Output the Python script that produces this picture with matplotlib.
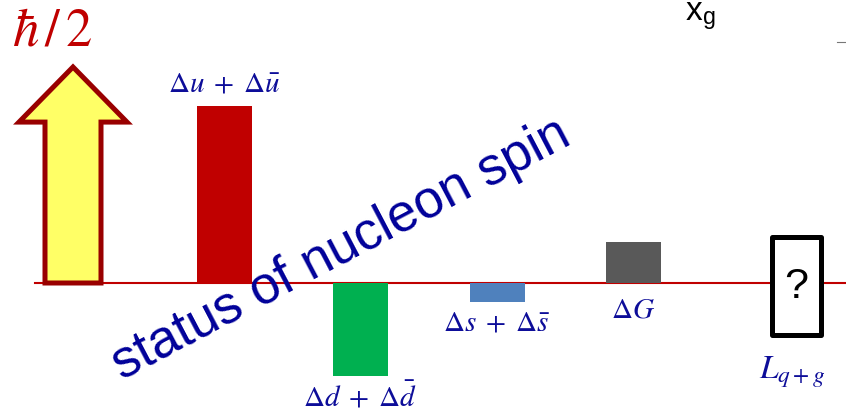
import matplotlib.pyplot as plt
from matplotlib.patches import Polygon, Rectangle

plt.rcParams['mathtext.fontset'] = 'stix'
plt.rcParams['font.family'] = ['Liberation Sans', 'DejaVu Sans']

# spin contributions in units of hbar/2
labels = [r'$\Delta u\;+\;\Delta\bar{u}$', r'$\Delta d\;+\;\Delta\bar{d}$',
          r'$\Delta s\;+\;\Delta\bar{s}$', r'$\Delta G$']
values = [0.82, -0.43, -0.09, 0.19]
colors = ['#C00000', '#00B050', '#4F81BD', '#595959']
total_spin = 1.0
orbital_range = [-0.243, 0.215]
orbital_label = r'$L_{q+g}$'

# layout in pixel-like units along x, 216 px per unit of spin
centers = [224, 360.5, 497, 633.5]
box_x = 796
arrow_x = 73
scale = 216.0
base_py = 283.0


def y_of(py):
    return (base_py - py) / scale


fig = plt.figure(figsize=(8.46, 4.12), dpi=100)
ax = fig.add_axes([0, 0, 1, 1])
ax.set_xlim(0, 846)
ax.set_ylim(y_of(412), y_of(0))
ax.axis('off')

navy = '#0D0D99'

# baseline
ax.plot([35, 846], [0, 0], color='#C00000', lw=1.5, zorder=1)

# big arrow for the total spin
head = 0.255 * total_spin
arrow = Polygon([(arrow_x - 28, 0), (arrow_x + 28, 0),
                 (arrow_x + 28, total_spin - head), (arrow_x + 54, total_spin - head),
                 (arrow_x, total_spin),
                 (arrow_x - 54, total_spin - head), (arrow_x - 28, total_spin - head)],
                closed=True, facecolor='#FFFF66', edgecolor='#990000', lw=3.6,
                joinstyle='miter', zorder=3)
ax.add_patch(arrow)
ax.text(12, y_of(46), r'$\hbar\,/\,2$', color='#C00000', fontsize=38,
        ha='left', va='baseline')

# contributions
ax.bar(centers, values, width=55, color=colors, zorder=2)
label_py = [93, 406, 331, 318]
for c, lab, py in zip(centers, labels, label_py):
    ax.text(c, y_of(py), lab, color=navy, fontsize=21, ha='center', va='baseline')

# unknown orbital part
box = Rectangle((box_x - 24.5, orbital_range[0]), 49, orbital_range[1] - orbital_range[0],
                facecolor='white', edgecolor='black', lw=3.6, joinstyle='round', zorder=3)
ax.add_patch(box)
ax.text(box_x, y_of(287), '?', fontsize=31, ha='center', va='center', zorder=4)
ax.text(box_x - 4, y_of(378), orbital_label, color=navy, fontsize=24,
        ha='center', va='baseline')

ax.text(122, y_of(380), 'status of nucleon spin', color='#000099', fontsize=38,
        rotation=27.7, rotation_mode='anchor', ha='left', va='baseline', zorder=5)

ax.text(685, y_of(20), r'x$_\mathregular{g}$', fontsize=24, ha='left', va='baseline')
ax.plot([837, 846], [y_of(42), y_of(42)], color='#777777', lw=0.8)

fig.savefig('out.png', dpi=100)
